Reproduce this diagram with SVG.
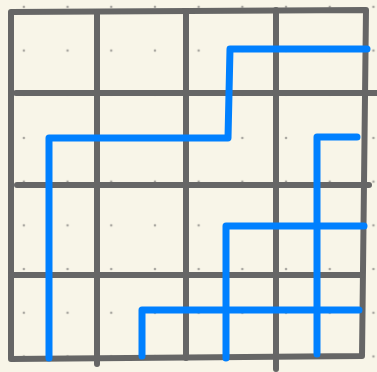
<svg xmlns="http://www.w3.org/2000/svg" width="377" height="372" viewBox="0 0 377 372">
<defs>
<style>
.bg{fill:#f8f5e8}
.dot{fill:#a8a6a0}
.grid{fill:none;stroke:#666666;stroke-width:6;stroke-linecap:round;stroke-linejoin:round}
.route{fill:none;stroke:#0080ff;stroke-width:7;stroke-linecap:round;stroke-linejoin:round}
</style>
<pattern id="dots" x="2" y="-15" width="43.7" height="43.7" patternUnits="userSpaceOnUse">
<circle class="dot" cx="21.85" cy="21.85" r="1.3"/>
</pattern>
</defs>
<rect class="bg" x="0" y="0" width="377" height="372"/>
<rect x="0" y="0" width="377" height="372" fill="url(#dots)"/>
<g id="grid">
<path class="grid" d="M11,359 L11,12 L366,10 L362,356 L11,359"/>
<path class="grid" d="M97,12 L97,364"/>
<path class="grid" d="M186,11 L186,358"/>
<path class="grid" d="M276,10 L276,369"/>
<path class="grid" d="M16,93 L377,93"/>
<path class="grid" d="M17,185 L369,185"/>
<path class="grid" d="M11,275 L362,275"/>
</g>
<g id="connectors">
<path class="route" d="M49,358 L49,138 L228,138 L230,49 L367,49"/>
<path class="route" d="M317,354 L317,137 L357,137"/>
<path class="route" d="M226,358 L226,226 L364,226"/>
<path class="route" d="M142,356 L142,310 L359,310"/>
</g>
</svg>
